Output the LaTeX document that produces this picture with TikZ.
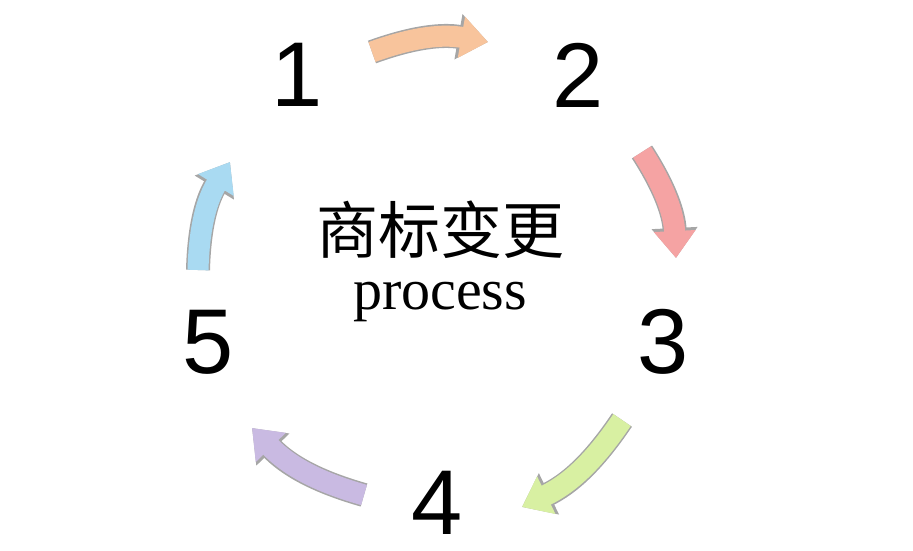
\documentclass[tikz,border=0pt]{standalone}
\usepackage{fontspec}
\setsansfont{Liberation Sans}
\setmainfont{Liberation Serif}
\newfontfamily\cjk{Noto Sans CJK SC}
\usetikzlibrary{arrows.meta}
\definecolor{cOne}{HTML}{F8C49C}
\definecolor{cTwo}{HTML}{F5A3A3}
\definecolor{cThree}{HTML}{D8F0A2}
\definecolor{cFour}{HTML}{C9BAE2}
\definecolor{cFive}{HTML}{A9DAF2}
\tikzset{
  num/.style={font=\sffamily\fontsize{92}{92}\selectfont},
  rim/.style={draw=gray!70, line width=24pt, -{Triangle[width=44pt,length=30pt]}},
  body/.style={line width=21pt, -{Triangle[width=40pt,length=27pt]}}
}
\newcommand{\cyclearrow}[3]{%
  \draw[rim] (#1) to[bend left=15] (#2);
  \draw[body,draw=#3,fill=#3] (#1) to[bend left=15] (#2);}
\begin{document}
\begin{tikzpicture}[x=1pt,y=-1pt]
\useasboundingbox (0,0) rectangle (913,550);
\node[num] (n1) at (297,75) {1};
\node[num] (n2) at (578,75) {2};
\node[num] (n3) at (663,342) {3};
\node[num] (n4) at (437,503) {4};
\node[num] (n5) at (208,342) {5};
\node[font=\cjk\fontsize{62}{62}\selectfont] (title) at (440,230) {商标变更};
\node[font=\fontsize{58}{58}\selectfont] (sub) at (440,302) {process};
\coordinate (a1s) at (372,52);
\coordinate (a1e) at (488,42);
\coordinate (a2s) at (642,152);
\coordinate (a2e) at (676,258);
\coordinate (a3s) at (622,420);
\coordinate (a3e) at (522,507);
\coordinate (a4s) at (364,495);
\coordinate (a4e) at (252,428);
\coordinate (a5s) at (198,270);
\coordinate (a5e) at (230,162);
\cyclearrow{a1s}{a1e}{cOne}
\cyclearrow{a2s}{a2e}{cTwo}
\cyclearrow{a3s}{a3e}{cThree}
\cyclearrow{a4s}{a4e}{cFour}
\cyclearrow{a5s}{a5e}{cFive}
\end{tikzpicture}
\end{document}
